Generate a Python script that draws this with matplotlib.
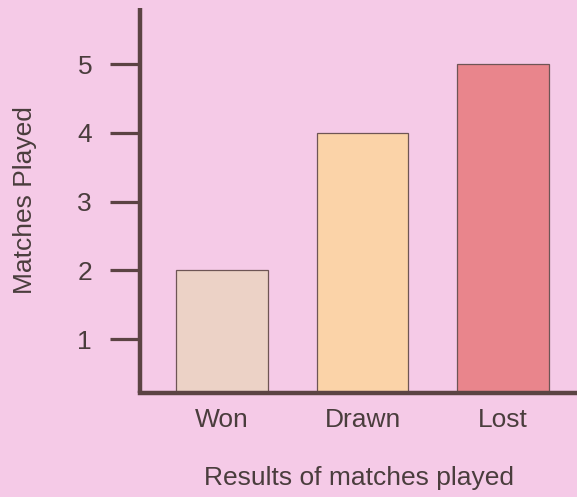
import matplotlib
matplotlib.use("Agg")
import matplotlib.pyplot as plt

# Match results
categories = ["Won", "Drawn", "Lost"]
matches = [2, 4, 5]
bar_colors = ["#ECD2C6", "#FBD3A8", "#E9858C"]
y_ticks = [1, 2, 3, 4, 5]

bg = "#F5CAE7"
ink = "#5B4343"
text_col = "#4A3D3D"

plt.rcParams["font.family"] = ["Liberation Sans", "DejaVu Sans"]

fig = plt.figure(figsize=(5.77, 4.97), dpi=100, facecolor=bg)
ax = fig.add_axes([140 / 577, 1 - 393 / 497, 437 / 577, 385 / 497])
ax.set_facecolor(bg)

x = list(range(len(categories)))
ax.bar(x, matches, width=0.65, color=bar_colors, edgecolor="#6E5555",
       linewidth=0.9, zorder=2)

ax.set_xlim(-0.584, 2.527)
ax.set_ylim(0.215, 5.815)

for side in ("top", "right"):
    ax.spines[side].set_visible(False)
for side in ("left", "bottom"):
    ax.spines[side].set_color(ink)
    ax.spines[side].set_linewidth(3.2)
    ax.spines[side].set_zorder(3)
ax.spines["left"].set_capstyle("butt")

ax.set_yticks(y_ticks)
ax.set_yticklabels([str(v) for v in y_ticks])
ax.tick_params(axis="y", direction="out", length=21.5, width=2.3, color=ink,
               pad=13, labelsize=19, labelcolor=text_col)

ax.set_xticks(x)
ax.set_xticklabels(categories)
ax.tick_params(axis="x", length=0, pad=11, labelsize=19, labelcolor=text_col)

ax.set_xlabel("Results of matches played", fontsize=19, color=text_col,
              va="baseline")
ax.xaxis.set_label_coords(0.5, (393 - 485) / 385)

ax.set_ylabel("Matches Played", fontsize=19, color=text_col, va="center")
ax.yaxis.set_label_coords((25 - 140) / 437, 0.5)

fig.savefig("out.png", dpi=100, facecolor=bg)
